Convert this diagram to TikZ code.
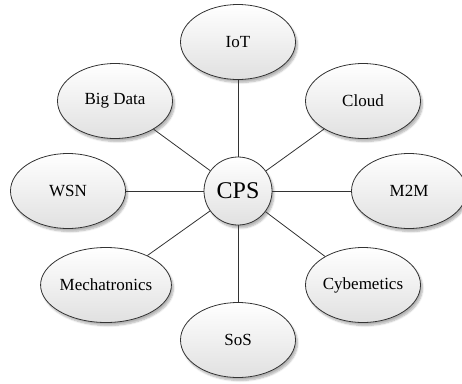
\documentclass[tikz,border=0pt]{standalone}
\usepackage{fontspec}
\setmainfont{Liberation Serif}
\usetikzlibrary{shapes.geometric,shadows.blur}
\begin{document}
\begin{tikzpicture}[x=1pt,y=-1pt,
  bubble/.style={ellipse, draw=black!80, line width=0.8pt, top color=white, bottom color=black!12,
    minimum width=115pt, minimum height=75pt, inner sep=0pt, font=\fontsize{17}{19}\selectfont,
    blur shadow={shadow xshift=2pt, shadow yshift=-3pt, shadow blur steps=6, shadow opacity=30}},
  hub/.style={circle, draw=black!80, line width=0.8pt, top color=white, bottom color=black!12,
    minimum size=68pt, inner sep=0pt, font=\fontsize{24}{27}\selectfont,
    blur shadow={shadow xshift=2pt, shadow yshift=-3pt, shadow blur steps=6, shadow opacity=30}},
  link/.style={draw=black!80, line width=0.8pt}]
\useasboundingbox (0,0) rectangle (462,383);
\node[hub] (cps) at (238,191) {CPS};
\node[bubble] (iot) at (238,42) {IoT};
\node[bubble] (big) at (115,101) {Big Data};
\node[bubble] (cloud) at (363,101) {Cloud};
\node[bubble] (wsn) at (68,191) {WSN};
\node[bubble] (m2m) at (409,191) {M2M};
\node[bubble] (mech) at (106,285) {Mechatronics};
\node[bubble] (cyb) at (363,285) {Cybemetics};
\node[bubble] (sos) at (238,340) {SoS};
\foreach \n in {iot,big,cloud,wsn,m2m,mech,cyb,sos}
  \draw[link] (cps) -- (\n);
\end{tikzpicture}
\end{document}
